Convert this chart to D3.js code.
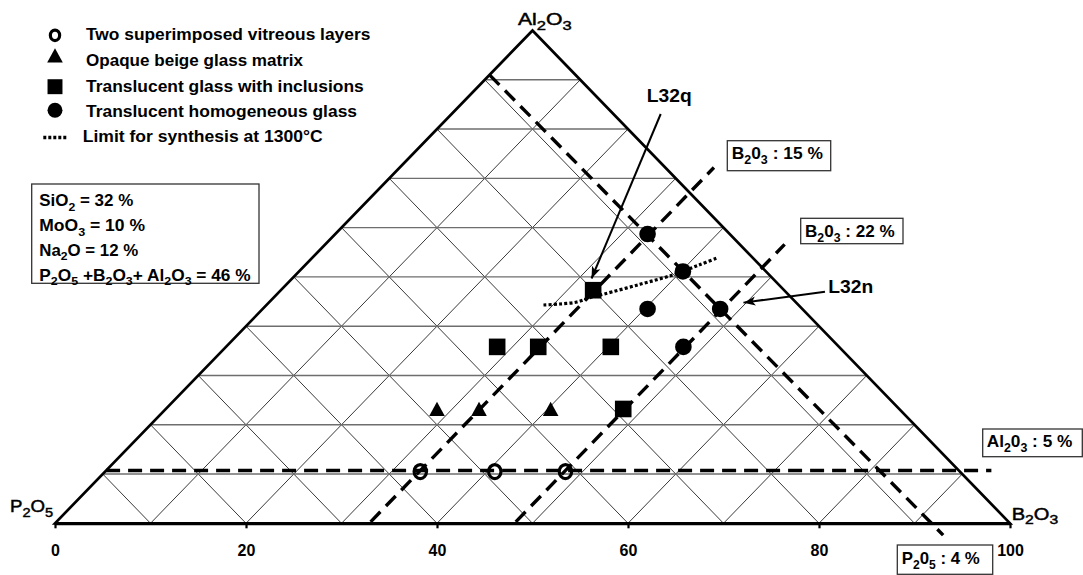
<!DOCTYPE html>
<html><head><meta charset="utf-8">
<script src="https://cdn.jsdelivr.net/npm/d3@7"></script>
<style>
html,body{margin:0;padding:0;background:#fff;}
svg{display:block;}
text{font-family:"Liberation Sans",Arial,sans-serif;white-space:pre;}
</style></head><body>
<svg id="chart" width="1083" height="575"></svg>
<script>
// ===================== DATA =====================
// ternary compositions in diagram %  [P2O5, B2O3, Al2O3]
const vertexLabels = ["P_2O_5", "B_2O_3", "Al_2O_3"];
const axisTicks = [0, 20, 40, 60, 80, 100];
const gridLevels = [10, 20, 30, 40, 50, 60, 70, 80, 90];

const twoLayers = [[56.5, 33.0, 10.5], [48.7, 40.8, 10.5], [41.3, 48.2, 10.5]];
const opaqueBeige = [[48.4, 28.4, 23.2], [44.0, 32.8, 23.2], [36.5, 40.3, 23.2]];
const glassInclusions = [[35.8, 28.4, 35.8], [31.5, 32.7, 35.8], [23.9, 40.3, 35.8], [20.0, 32.7, 47.3], [28.9, 47.9, 23.2]];
const homogeneousGlass = [[8.6, 32.7, 58.7], [8.7, 40.2, 51.1], [16.2, 40.3, 43.5], [8.6, 47.9, 43.5], [16.3, 47.9, 35.8]];
const synthesisLimit = [[26.7, 29.0, 44.3], [24.9, 30.6, 44.5], [22.9, 32.2, 44.9], [21.1, 33.1, 45.8], [19.3, 34.2, 46.5],
                        [14.5, 37.0, 48.5], [10.1, 39.5, 50.4], [6.2, 41.3, 52.5], [3.8, 42.4, 53.8]];

// iso-composition guide lines (start, end) and their labels
const guideLabels = ["B_20_3 : 15 %", "B_20_3 : 22 %", "Al_20_3 : 5 %", "P_20_5 : 4 %"];
const guideB15 = [[66.8, 32.9, 0.3], [-5.1, 32.9, 72.2]];
const guideB22 = [[51.6, 48.1, 0.3], [-4.7, 48.1, 56.6]];
const guideAl5 = [[89.3, 0.0, 10.7], [-3.4, 92.7, 10.7]];
const guideP4 = [[9.0, 0.0, 91.0], [8.2, 94.2, -2.4]];

const legendLabels = ["Two superimposed vitreous layers", "Opaque beige glass matrix",
  "Translucent glass with inclusions", "Translucent homogeneous glass", "Limit for synthesis at 1300°C"];
const infoLines = ["SiO_2 = 32 %", "MoO_3 = 10 %", "Na_2O = 12 %", "P_2O_5 +B_2O_3+ Al_2O_3 = 46 %"];
const sampleLabels = ["L32q", "L32n"];

// ===================== CHART =====================
const svg = d3.select("#chart");
const xScale = d3.scaleLinear().domain([0, 100]).range([55, 1010]);
const yScale = d3.scaleLinear().domain([0, 100]).range([523.3, 30.5]);
function proj(d) { const [p, b, a] = d; return [xScale(b + a / 2), yScale(a)]; }
const line = d3.line().x(d => proj(d)[0]).y(d => proj(d)[1]);

const defs = svg.append("defs");
defs.append("marker").attr("id", "arrow").attr("viewBox", "0 -5 12 10")
  .attr("refX", 12).attr("refY", 0).attr("markerWidth", 12).attr("markerHeight", 10)
  .attr("markerUnits", "userSpaceOnUse").attr("orient", "auto")
  .append("path").attr("d", "M0,-4.5L12,0L0,4.5L3,0Z").attr("fill", "#000");

function rich(parent, str, o) {
  const g = parent.append("g").attr("transform", `translate(${o.x},${o.y})`);
  const t = g.append("text").attr("font-size", o.size).attr("font-weight", o.weight || "bold").attr("fill", "#000");
  if (o.family) t.attr("font-family", o.family);
  if (o.stroke) t.attr("stroke", "#000").attr("stroke-width", o.stroke);
  const segs = []; let cur = "", i = 0;
  while (i < str.length) {
    if (str[i] === "_") { if (cur) segs.push([cur, false]); cur = ""; segs.push([str[i + 1], true]); i += 2; }
    else { cur += str[i]; i++; }
  }
  if (cur) segs.push([cur, false]);
  const shift = o.size * 0.3; let sub = false;
  segs.forEach(([s, isSub]) => {
    const ts = t.append("tspan").text(s);
    if (isSub) { ts.attr("font-size", o.size * (o.subRatio || 0.72)); if (!sub) ts.attr("dy", shift); sub = true; }
    else { if (sub) ts.attr("dy", -shift); sub = false; }
  });
  const bb = t.node().getBBox();
  const sx = o.width ? o.width / bb.width : 1;
  const w = bb.width * sx;
  const ox = o.anchor === "middle" ? -w / 2 : o.anchor === "end" ? -w : 0;
  t.attr("transform", `translate(${ox - bb.x * sx},0) scale(${sx},1)`);
  return g;
}

// grid
const gGrid = svg.append("g").attr("fill", "none");
gridLevels.forEach(L => {
  gGrid.append("path").attr("d", line([[L, 100 - L, 0], [L, 0, 100 - L]])).attr("stroke", "#222").attr("stroke-width", 0.9);
  gGrid.append("path").attr("d", line([[100 - L, L, 0], [0, L, 100 - L]])).attr("stroke", "#222").attr("stroke-width", 0.9);
});
gridLevels.forEach(L => {
  gGrid.append("path").attr("d", line([[100 - L, 0, L], [0, 100 - L, L]])).attr("stroke", "#6e6e6e").attr("stroke-width", 1.4);
});

// triangle
svg.append("path").attr("d", line([[100, 0, 0], [0, 100, 0], [0, 0, 100]]) + "Z")
  .attr("fill", "none").attr("stroke", "#000").attr("stroke-width", 2.7).attr("stroke-linejoin", "miter");

// bottom axis
const axis = d3.axisBottom(xScale).tickValues(axisTicks).tickSize(5).tickSizeOuter(0);
const gAxis = svg.append("g").attr("transform", `translate(0,${yScale(0)})`).call(axis);
gAxis.select(".domain").attr("stroke", "#000").attr("stroke-width", 2.7);
gAxis.selectAll(".tick line").attr("stroke", "#000").attr("stroke-width", 2.2);
gAxis.selectAll(".tick text").attr("dy", null).attr("y", 32.7).attr("font-size", 16).attr("font-weight", "bold")
  .attr("font-family", "Liberation Sans, Arial, sans-serif").attr("fill", "#000");

// vertex labels
const vfam = "DejaVu Sans, sans-serif";
rich(svg, vertexLabels[0], { x: 53.3, y: 512, size: 16, weight: "normal", family: vfam, width: 43.3, anchor: "end", stroke: 0.45, subRatio: 0.78 });
rich(svg, vertexLabels[1], { x: 1011.7, y: 519.5, size: 16, weight: "normal", family: vfam, width: 46.6, stroke: 0.45, subRatio: 0.78 });
rich(svg, vertexLabels[2], { x: 518, y: 25, size: 16, weight: "normal", family: vfam, width: 53.7, stroke: 0.45, subRatio: 0.78 });

// guide lines
const gGuide = svg.append("g").attr("fill", "none").attr("stroke", "#000").attr("stroke-width", 3.4).attr("stroke-dasharray", "14,8");
[guideB15, guideB22, guideAl5, guideP4].forEach(gl => gGuide.append("path").attr("d", line(gl)));

// synthesis limit
svg.append("path").attr("d", line.curve(d3.curveCatmullRom)(synthesisLimit))
  .attr("fill", "none").attr("stroke", "#000").attr("stroke-width", 3.2).attr("stroke-dasharray", "3,2.2");
line.curve(d3.curveLinear);

// markers
function marker(g, type, x, y, k) {
  k = k || 1;
  if (type === "open") g.append("ellipse").attr("cx", x).attr("cy", y).attr("rx", 6.2 * k).attr("ry", 7 * k)
    .attr("fill", "none").attr("stroke", "#000").attr("stroke-width", 3.2);
  else if (type === "tri") g.append("path").attr("d", `M${x},${y - 7.2 * k}L${x + 7.8 * k},${y + 7 * k}L${x - 7.8 * k},${y + 7 * k}Z`).attr("fill", "#000");
  else if (type === "sq") g.append("rect").attr("x", x - 8.3 * k).attr("y", y - 8.3 * k).attr("width", 16.6 * k).attr("height", 16.6 * k).attr("fill", "#000");
  else if (type === "circ") g.append("circle").attr("cx", x).attr("cy", y).attr("r", 8.3 * k).attr("fill", "#000");
}
const gPts = svg.append("g");
[[twoLayers, "open"], [opaqueBeige, "tri"], [glassInclusions, "sq"], [homogeneousGlass, "circ"]].forEach(([arr, type]) => {
  arr.forEach(d => { const [x, y] = proj(d); marker(gPts, type, x, y); });
});

// guide label boxes
const boxes = [
  { r: [727.3, 140.7, 103.4, 30], tx: 731.7, ty: 159.3, w: 91.6 },
  { r: [800.7, 218.3, 102.3, 25.4], tx: 805, ty: 236.7, w: 90 },
  { r: [982.7, 429, 99.6, 27.7], tx: 986.7, ty: 447.3, w: 86 },
  { r: [897.3, 545, 95.4, 29.3], tx: 901.7, ty: 564.3, w: 78.3 }
];
boxes.forEach((b, i) => {
  svg.append("rect").attr("x", b.r[0]).attr("y", b.r[1]).attr("width", b.r[2]).attr("height", b.r[3])
    .attr("fill", "#fff").attr("stroke", "#333").attr("stroke-width", 1.3);
  rich(svg, guideLabels[i], { x: b.tx, y: b.ty, size: 16.5, width: b.w });
});

// sample annotations
const sq = proj(glassInclusions[3]);
svg.append("line").attr("x1", 660.7).attr("y1", 114).attr("x2", sq[0] - 1.6).attr("y2", sq[1] - 11.7)
  .attr("stroke", "#000").attr("stroke-width", 2).attr("marker-end", "url(#arrow)");
rich(svg, sampleLabels[0], { x: 646.7, y: 102.3, size: 19, width: 45 });
const ci = proj(homogeneousGlass[3]);
svg.append("line").attr("x1", 825).attr("y1", 291.7).attr("x2", ci[0] + 23.3).attr("y2", ci[1] - 6.3)
  .attr("stroke", "#000").attr("stroke-width", 2).attr("marker-end", "url(#arrow)");
rich(svg, sampleLabels[1], { x: 828.3, y: 293.3, size: 19, width: 45 });

// info box
svg.append("rect").attr("x", 31.7).attr("y", 184).attr("width", 227.3).attr("height", 99.3)
  .attr("fill", "#fff").attr("stroke", "#333").attr("stroke-width", 1.3);
const infoY = [206, 231.3, 255.5, 280.5], infoW = [94, 105.7, 99, 211.4];
infoLines.forEach((s, i) => rich(svg, s, { x: 39.3, y: infoY[i], size: 16, width: infoW[i] }));

// legend
const legY = [35.3, 55.5, 86.7, 110.3], legTY = [40, 66, 91.7, 116.7, 141.7];
const legW = [284.7, 217.3, 278, 271.3, 240.7];
const gLeg = svg.append("g");
marker(gLeg, "open", 55, legY[0], 0.75);
marker(gLeg, "tri", 55, legY[1], 1.0);
marker(gLeg, "sq", 55, legY[2], 0.9);
marker(gLeg, "circ", 55, legY[3], 0.9);
gLeg.append("line").attr("x1", 43.3).attr("x2", 68.3).attr("y1", 137.5).attr("y2", 137.5)
  .attr("stroke", "#000").attr("stroke-width", 3.6).attr("stroke-dasharray", "3,2");
legendLabels.forEach((s, i) => rich(gLeg, s, { x: i === 4 ? 82.7 : 86, y: legTY[i], size: 16, width: legW[i] }));
</script>
</body></html>
